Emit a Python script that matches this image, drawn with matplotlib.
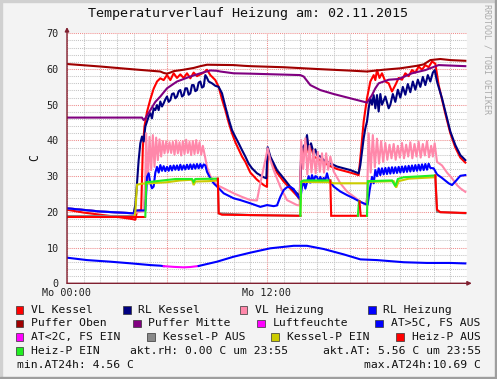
import matplotlib
matplotlib.use("Agg")
import matplotlib.pyplot as plt
from matplotlib.patches import Rectangle
import numpy as np

plt.rcParams['font.family'] = ['DejaVu Sans Mono']

# ---------------- data (hour of day, value in C) ----------------
vl_kessel = [(0, 20.6), (1, 19.8), (2, 19.2), (3, 18.6), (3.9, 18.0), (4.1, 17.8), (4.2, 20.3), (4.45, 20.5),
             (4.55, 38.0), (4.65, 44.0), (4.8, 48.0), (5.0, 51.5), (5.2, 54.5), (5.4, 56.5), (5.6, 57.4), (5.8, 56.9),
             (6.0, 58.3), (6.2, 56.9), (6.4, 58.8), (6.6, 57.5), (6.8, 58.5), (7.0, 57.5), (7.2, 58.8), (7.4, 57.4),
             (7.6, 59.0), (7.8, 58.0), (8.0, 58.5), (8.2, 59.0), (8.4, 59.8), (8.6, 58.3), (8.9, 56.9), (9.1, 55.0),
             (9.3, 51.5), (9.5, 48.5), (9.7, 45.0), (9.9, 42.0), (10.1, 39.5), (10.3, 37.5), (10.5, 35.5), (10.7, 34.0),
             (11.0, 31.0), (11.4, 29.0), (11.8, 27.5), (12.0, 27.0), (12.05, 37.3), (12.2, 35.0), (12.6, 31.0),
             (13.0, 28.5), (13.4, 26.5), (13.8, 24.5), (13.96, 23.5), (14.04, 33.0), (14.16, 37.0), (14.4, 40.5),
             (14.5, 36.5), (14.64, 38.5), (14.8, 35.5), (15.0, 35.0), (15.4, 33.8), (15.8, 32.8), (16.2, 32.0),
             (16.6, 31.5), (17.0, 31.0), (17.5, 30.3), (17.6, 35.0), (17.8, 45.3), (18.0, 51.8), (18.2, 56.5),
             (18.4, 58.3), (18.5, 56.9), (18.6, 59.7), (18.75, 57.5), (18.9, 58.8), (19.1, 56.5), (19.3, 56.0),
             (19.5, 53.7), (19.7, 55.5), (19.9, 57.5), (20.1, 57.0), (20.3, 58.8), (20.5, 58.0), (20.7, 59.7),
             (20.9, 59.0), (21.1, 60.7), (21.3, 59.8), (21.5, 61.1), (21.7, 60.5), (21.9, 62.1), (22.1, 61.5),
             (22.3, 55.5), (22.5, 51.5), (22.7, 47.5), (23.0, 42.0), (23.3, 38.0), (23.6, 35.2), (23.9, 33.8)]

rl_kessel = [(0, 21.0), (2, 20.1), (4.0, 19.6), (4.1, 22.0), (4.2, 28.0), (4.3, 34.5), (4.4, 39.2), (4.5, 41.1),
             (4.6, 39.7), (4.7, 43.9), (4.8, 45.3), (4.9, 46.7), (5.0, 47.6), (5.1, 46.2), (5.2, 49.0), (5.3, 48.5),
             (5.4, 49.9), (5.5, 48.5), (5.6, 50.9), (5.7, 49.5), (5.8, 50.4), (5.9, 51.5), (6.0, 52.3), (6.1, 50.8),
             (6.2, 51.3), (6.3, 53.0), (6.4, 53.2), (6.5, 51.8), (6.6, 52.3), (6.7, 53.8), (6.8, 54.1), (6.9, 52.3),
             (7.0, 52.7), (7.1, 54.6), (7.2, 54.6), (7.3, 52.8), (7.4, 53.2), (7.5, 55.5), (7.6, 55.5), (7.7, 53.8),
             (7.8, 54.1), (7.9, 56.2), (8.0, 56.5), (8.1, 54.8), (8.2, 55.1), (8.3, 58.3), (8.4, 57.5), (8.5, 56.5),
             (8.7, 56.0), (8.9, 55.3), (9.1, 55.0), (9.3, 53.2), (9.5, 49.5), (9.7, 46.0), (9.9, 42.9), (10.1, 41.0),
             (10.3, 39.2), (10.5, 37.3), (10.7, 35.5), (10.9, 33.5), (11.1, 32.2), (11.4, 30.8), (11.8, 29.7),
             (11.96, 29.4), (12.04, 38.1), (12.2, 35.5), (12.6, 31.7), (13.0, 29.4), (13.4, 27.0), (13.8, 25.2),
             (13.96, 24.2), (14.04, 34.5), (14.16, 38.2), (14.3, 39.0), (14.4, 41.5), (14.5, 37.3), (14.64, 39.2),
             (14.8, 36.4), (14.9, 37.5), (15.0, 35.9), (15.2, 35.5), (15.4, 34.5), (15.8, 33.6), (16.2, 32.7),
             (16.6, 32.2), (17.0, 31.7), (17.5, 30.8), (17.6, 33.1), (17.8, 40.6), (17.9, 43.4), (18.0, 45.3),
             (18.1, 49.0), (18.2, 51.8), (18.3, 50.0), (18.4, 52.7), (18.5, 49.0), (18.6, 52.7), (18.7, 48.1),
             (18.8, 53.0), (18.9, 50.0), (19.1, 52.3), (19.3, 49.0), (19.4, 50.0), (19.55, 53.0), (19.7, 50.8),
             (19.85, 54.2), (20.0, 52.0), (20.15, 55.0), (20.3, 52.8), (20.45, 55.8), (20.6, 53.5), (20.75, 56.5),
             (20.9, 54.2), (21.05, 57.0), (21.2, 55.0), (21.35, 57.8), (21.5, 55.5), (21.65, 58.3), (21.8, 56.5),
             (21.95, 59.0), (22.06, 59.7), (22.2, 56.5), (22.5, 51.8), (22.7, 48.1), (23.0, 42.5), (23.3, 38.7),
             (23.6, 35.9), (23.9, 34.5)]

vl_heizung = [(0, 21.0), (2, 20.1), (4.0, 19.6), (4.6, 20.3), (4.7, 30.0),
              (4.75, 42.0), (4.85, 28.0), (4.95, 41.0), (5.05, 31.7), (5.15, 41.5), (5.25, 32.6), (5.35, 40.8),
              (5.45, 34.5), (5.55, 40.3), (5.65, 35.5), (5.75, 39.8), (5.85, 36.4), (5.95, 39.7), (6.05, 36.6),
              (6.15, 39.5), (6.25, 36.5), (6.35, 39.6), (6.45, 36.0), (6.55, 40.0), (6.65, 36.4), (6.75, 39.5),
              (6.85, 35.8), (6.95, 39.8), (7.05, 36.2), (7.15, 40.2), (7.25, 36.5), (7.35, 39.6), (7.45, 35.9),
              (7.55, 39.8), (7.65, 36.2), (7.75, 40.1), (7.85, 36.4), (7.95, 39.5), (8.05, 36.0), (8.15, 38.5),
              (8.3, 35.0), (8.4, 32.5), (8.6, 30.0), (8.8, 28.5), (9.0, 27.5), (9.4, 26.6), (10.0, 25.2),
              (10.5, 24.2), (11.0, 23.3), (11.4, 23.2), (11.6, 28.0), (11.9, 34.5), (12.04, 37.8), (12.2, 34.5),
              (12.4, 31.7), (12.8, 27.0), (13.2, 23.3), (13.8, 21.9), (13.96, 21.8),
              (14.05, 40.1), (14.17, 32.0), (14.3, 40.6), (14.42, 30.5), (14.55, 38.5), (14.67, 31.0), (14.8, 37.3),
              (14.92, 30.8), (15.05, 36.8), (15.17, 31.2), (15.3, 36.4), (15.42, 31.0), (15.55, 36.4), (15.67, 31.8),
              (15.8, 35.5), (16.0, 31.3), (16.4, 28.0), (16.8, 25.7), (17.2, 24.3), (17.6, 22.9), (17.9, 22.0),
              (18.0, 23.8), (18.1, 42.0), (18.22, 31.0), (18.35, 41.5), (18.47, 32.5), (18.6, 40.5), (18.72, 33.5),
              (18.85, 39.8), (18.97, 34.0), (19.1, 39.3), (19.22, 34.6), (19.35, 38.8), (19.47, 35.0), (19.6, 39.0),
              (19.72, 34.6), (19.85, 38.5), (19.97, 35.2), (20.1, 39.3), (20.22, 35.0), (20.35, 38.8), (20.47, 35.5),
              (20.6, 39.5), (20.72, 35.0), (20.85, 39.0), (20.97, 35.5), (21.1, 39.6), (21.22, 35.2), (21.35, 39.0),
              (21.47, 35.8), (21.6, 39.8), (21.72, 35.3), (21.85, 38.5), (21.95, 35.5), (22.06, 39.2), (22.2, 34.0),
              (22.5, 33.0), (22.8, 31.0), (23.1, 29.4), (23.4, 27.5), (23.6, 26.6), (23.9, 25.6)]

rl_heizung = [(0, 21.0), (2, 20.1), (4.0, 19.6), (4.1, 20.4), (4.7, 20.4), (4.8, 29.8), (4.9, 30.8), (5.0, 28.0),
              (5.1, 26.6), (5.2, 27.1), (5.3, 31.0), (5.4, 32.6), (5.5, 31.0), (5.6, 33.1), (5.7, 31.5), (5.8, 32.8),
              (5.9, 31.4), (6.0, 32.6), (6.1, 31.5), (6.2, 32.9), (6.3, 31.6), (6.4, 33.0), (6.5, 31.8), (6.6, 33.0),
              (6.7, 31.7), (6.8, 33.2), (6.9, 31.8), (7.0, 33.0), (7.1, 31.9), (7.2, 33.2), (7.3, 32.0), (7.4, 33.3),
              (7.5, 32.0), (7.6, 33.3), (7.7, 32.1), (7.8, 33.4), (7.9, 32.2), (8.0, 33.4), (8.1, 32.3), (8.2, 33.3),
              (8.3, 33.0), (8.4, 31.2), (8.6, 29.4), (8.8, 28.0), (9.0, 27.1), (9.4, 25.2), (10.0, 23.8), (10.4, 23.3),
              (11.0, 22.4), (11.6, 21.4), (12.0, 21.9), (12.4, 21.6), (12.6, 21.8), (12.8, 24.2), (13.0, 26.1),
              (13.2, 26.9), (13.4, 27.0), (13.6, 26.4), (13.8, 24.7), (14.0, 23.5), (14.1, 27.1), (14.2, 28.4),
              (14.3, 26.5), (14.4, 28.2), (14.5, 30.0), (14.6, 28.2), (14.7, 30.3), (14.8, 28.6), (14.9, 30.0),
              (15.0, 29.8), (15.1, 28.4), (15.2, 29.8), (15.3, 28.6), (15.4, 29.5), (15.5, 28.9), (15.6, 30.8),
              (15.7, 29.0), (15.8, 28.4), (16.0, 27.1), (16.4, 25.7), (16.8, 24.7), (17.2, 23.8), (17.6, 22.8),
              (17.9, 22.2), (18.04, 22.0), (18.16, 26.1), (18.3, 29.8), (18.4, 28.0), (18.5, 31.7), (18.6, 30.0),
              (18.7, 32.2), (18.8, 30.3), (18.9, 32.2), (19.0, 30.5), (19.1, 32.3), (19.2, 30.6), (19.3, 32.4),
              (19.4, 30.7), (19.5, 32.5), (19.6, 30.8), (19.7, 32.5), (19.8, 30.9), (19.9, 32.6), (20.0, 31.0),
              (20.1, 32.7), (20.2, 31.1), (20.3, 32.8), (20.4, 31.2), (20.5, 32.9), (20.6, 31.3), (20.7, 33.0),
              (20.8, 31.4), (20.9, 33.1), (21.0, 31.5), (21.1, 33.2), (21.2, 31.6), (21.3, 33.3), (21.4, 31.7),
              (21.5, 33.4), (21.6, 31.8), (21.7, 33.5), (21.8, 32.3), (22.0, 32.2), (22.2, 30.5), (22.5, 29.5),
              (22.9, 28.0), (23.1, 27.5), (23.3, 28.5), (23.6, 30.1), (23.9, 30.3)]

puffer_oben = [(0, 61.4), (2, 60.7), (4, 59.9), (5.6, 59.3), (5.8, 58.9), (6.0, 58.7), (6.2, 59.0), (6.4, 59.4),
               (7.0, 59.8), (7.6, 60.3), (8.0, 60.8), (8.4, 61.2), (10.0, 61.1), (10.6, 60.9), (11.0, 60.8),
               (13.0, 60.5), (15.0, 60.0), (17.0, 59.55), (18.0, 59.3), (19.0, 59.8), (20.0, 60.2), (21.0, 60.9),
               (21.4, 61.3), (21.8, 62.5), (22.4, 62.8), (23.0, 62.5), (23.9, 62.3)]

puffer_mitte = [(0, 46.4), (4.5, 46.4), (4.6, 45.7), (4.7, 46.2), (5.0, 48.5), (5.3, 50.8), (5.6, 52.3), (6.0, 54.6),
                (6.6, 56.5), (7.4, 57.9), (8.0, 58.8), (8.6, 59.6), (9.0, 59.5), (9.2, 59.3), (10.0, 58.8),
                (11.0, 58.7), (14.0, 58.3), (14.2, 57.9), (14.6, 55.5), (15.2, 54.1), (16.0, 53.0), (17.0, 51.8),
                (18.0, 50.6), (18.3, 52.7), (18.5, 54.6), (18.7, 56.0), (19.3, 57.0), (19.9, 57.2), (20.7, 58.8),
                (21.5, 59.7), (22.3, 61.1), (23.9, 60.8)]

# outside temperature; flag 1 = "AT<2C, FS EIN" colour
aussen_t = [(0, 7.17, 0), (1.2, 6.5, 0), (2.6, 6.05, 0), (3.8, 5.6, 0), (5.0, 5.1, 0), (5.6, 4.93, 0), (5.8, 4.8, 0),
            (6.4, 4.6, 1), (7.0, 4.47, 1), (7.4, 4.56, 1), (7.9, 4.85, 1), (8.4, 5.4, 0), (9.0, 6.05, 0),
            (10.0, 7.45, 0), (11.0, 8.58, 0), (12.2, 9.8, 0), (13.0, 10.2, 0), (13.6, 10.5, 0), (14.4, 10.5, 0),
            (15.4, 9.6, 0), (16.6, 8.1, 0), (17.6, 6.7, 0), (18.6, 6.5, 0), (20.2, 5.9, 0), (21.6, 5.7, 0),
            (23.0, 5.7, 0), (23.9, 5.56, 0)]

# boiler pump state line: (hour, value, 1 = EIN)
kessel_p = [(0, 18.9, 0), (4.05, 18.9, 0), (4.1, 20.0, 1), (4.2, 27.6, 1), (4.5, 27.9, 1), (5.0, 28.0, 1),
            (6.0, 28.3, 1), (6.8, 28.8, 1), (7.5, 29.0, 1), (7.6, 27.5, 1), (7.7, 28.5, 1), (8.5, 28.6, 1),
            (9.05, 28.8, 1), (9.1, 19.6, 0), (11.0, 19.1, 0), (14.0, 18.9, 0), (14.05, 28.4, 1), (15.8, 28.3, 1),
            (16.0, 28.0, 1), (18.0, 28.0, 1), (18.1, 28.4, 1), (19.6, 28.6, 1), (19.75, 26.8, 1), (19.9, 28.6, 1),
            (20.5, 29.3, 1), (22.1, 29.7, 1), (22.2, 20.0, 0), (23.9, 19.6, 0)]

# heating pump state line: (hour, value, 1 = EIN)
heiz_p = [(0, 18.7, 0), (4.7, 18.7, 0), (4.75, 28.3, 1), (5.0, 28.4, 1), (6.5, 29.2, 1), (7.5, 29.2, 1),
          (7.6, 28.4, 1), (7.7, 29.2, 1), (9.05, 29.3, 1), (9.1, 19.6, 0), (9.3, 19.2, 0), (11.0, 19.1, 0),
          (14.0, 18.9, 0), (14.05, 28.5, 1), (14.2, 28.8, 1), (15.8, 28.8, 1), (15.85, 18.9, 0), (17.45, 18.9, 0),
          (17.52, 22.9, 1), (17.55, 22.9, 1), (17.62, 18.9, 0), (18.0, 18.9, 0), (18.05, 28.6, 1), (19.5, 28.8, 1),
          (19.7, 27.2, 1), (19.85, 29.2, 1), (20.2, 29.7, 1), (21.0, 29.9, 1), (22.1, 30.2, 1), (22.2, 20.6, 0),
          (22.4, 19.9, 0), (23.9, 19.7, 0)]

x_tick_labels = ["Mo 00:00", "", "Mo 12:00", "", ""]
title = "Temperaturverlauf Heizung am: 02.11.2015"

# ---------------- styling ----------------
C_VLK, C_RLK, C_VLH, C_RLH = "#FF0000", "#000080", "#FF88AA", "#0000FF"
C_PO, C_PM, C_LF = "#A00000", "#800080", "#FF00FF"
C_ATHI, C_ATLO = "#0000FF", "#FF00FF"
C_KOFF, C_KON, C_HOFF, C_HON = "#888888", "#CCCC00", "#FF0000", "#22EE22"
AXC = "#802030"
LW = 1.5

W, H = 497, 379
fig = plt.figure(figsize=(W / 100, H / 100), dpi=100)
fig.patch.set_facecolor("#F3F3F3")

# outer 3D-ish border
fig.add_artist(Rectangle((0, 0), 2 / W, 1, transform=fig.transFigure, color="#D0D0D0", zorder=0))
fig.add_artist(Rectangle((0, 1 - 2 / H), 1, 2 / H, transform=fig.transFigure, color="#D0D0D0", zorder=0))
fig.add_artist(Rectangle((1 - 2 / W, 0), 2 / W, 1, transform=fig.transFigure, color="#9E9E9E", zorder=0))
fig.add_artist(Rectangle((0, 0), 1, 2 / H, transform=fig.transFigure, color="#9E9E9E", zorder=0))

ax = fig.add_axes([67 / W, 1 - 283.3 / H, 400 / W, 250 / H])
ax.set_facecolor("white")
ax.set_xlim(0, 24)
ax.set_ylim(0, 70)
ax.set_xticks([0, 6, 12, 18, 24])
ax.set_xticklabels(x_tick_labels)
ax.set_xticks(np.arange(0, 25, 1), minor=True)
ax.set_yticks(np.arange(0, 71, 10))
ax.set_yticks(np.arange(0, 71, 2), minor=True)
ax.grid(which="minor", color="#C4C4C4", linestyle=(0, (1, 1)), linewidth=0.75)
ax.grid(which="major", color="#EE8C8C", linestyle=(0, (1, 1)), linewidth=0.75)
ax.set_axisbelow(True)
ax.tick_params(which="both", length=0)
ax.tick_params(axis="y", pad=6, labelsize=7.3, labelcolor="#222222")
ax.tick_params(axis="x", pad=3.5, labelsize=7.3, labelcolor="#222222")
for s in ax.spines.values():
    s.set_visible(False)


def unzip(pairs):
    return [p[0] for p in pairs], [p[1] for p in pairs]


def draw_state(data, c_off, c_on, z):
    t = [d[0] for d in data]
    v = [d[1] for d in data]
    s = [d[2] for d in data]
    seg_col = [s[i + 1] for i in range(len(t) - 1)]
    i0 = 0
    for i in range(1, len(seg_col) + 1):
        if i == len(seg_col) or seg_col[i] != seg_col[i0]:
            ax.plot(t[i0:i + 1], v[i0:i + 1], color=(c_on if seg_col[i0] else c_off), lw=LW, zorder=z,
                    solid_joinstyle="miter")
            i0 = i


for z, (series, col) in enumerate([(vl_kessel, C_VLK), (rl_kessel, C_RLK), (vl_heizung, C_VLH),
                                   (rl_heizung, C_RLH), (puffer_oben, C_PO), (puffer_mitte, C_PM)]):
    t, v = unzip(series)
    ax.plot(t, v, color=col, lw=LW, zorder=3 + z)

draw_state(aussen_t, C_ATHI, C_ATLO, 10)
draw_state(kessel_p, C_KOFF, C_KON, 11)
draw_state(heiz_p, C_HOFF, C_HON, 12)

# axes with arrows
ax.annotate("", xy=(0, 1.025), xytext=(0, 0), xycoords="axes fraction",
            arrowprops=dict(arrowstyle="-|>", color=AXC, lw=1.0, mutation_scale=6, shrinkA=0, shrinkB=0),
            annotation_clip=False, zorder=20)
ax.annotate("", xy=(1.012, 0), xytext=(0, 0), xycoords="axes fraction",
            arrowprops=dict(arrowstyle="-|>", color=AXC, lw=1.0, mutation_scale=6, shrinkA=0, shrinkB=0),
            annotation_clip=False, zorder=20)

# texts
fig.text(248 / W, 1 - 14 / H, title, ha="center", va="center", fontsize=9.6, color="#111111")
fig.text(35 / W, 1 - 158 / H, "C", rotation=90, ha="center", va="center", fontsize=8.3, color="#111111")
fig.text(487 / W, 1 - 4 / H, "RRDTOOL / TOBI OETIKER", rotation=270, ha="center", va="top",
         fontsize=6.0, color="#AAAAAA")

legend_rows = [
    [("VL Kessel", C_VLK, 31), ("RL Kessel", C_RLK, 138.3), ("VL Heizung", C_VLH, 255), ("RL Heizung", C_RLH, 383.3)],
    [("Puffer Oben", C_PO, 31), ("Puffer Mitte", C_PM, 148.3), ("Luftfeuchte", C_LF, 272.7), ("AT>5C, FS AUS", C_ATHI, 390.7)],
    [("AT<2C, FS EIN", C_ATLO, 31), ("Kessel-P AUS", C_KOFF, 162.7), ("Kessel-P EIN", C_KON, 286.7), ("Heiz-P AUS", C_HOFF, 411.7)],
    [("Heiz-P EIN", C_HON, 31)],
]
row_y = [309.7, 323.3, 337.0, 350.7, 364.7]
for r, row in enumerate(legend_rows):
    y = row_y[r]
    for label, col, tx in row:
        bx = tx - 15.3
        fig.add_artist(Rectangle((bx / W, 1 - (y + 4) / H), 7.7 / W, 7.7 / H, transform=fig.transFigure,
                                 facecolor=col, edgecolor="#333333", linewidth=0.5))
        fig.text(tx / W, 1 - y / H, label, ha="left", va="center", fontsize=8.2, color="#111111")

fig.text(130 / W, 1 - row_y[3] / H, "akt.rH: 0.00 C um 23:55", ha="left", va="center", fontsize=8.2, color="#111111")
fig.text(481 / W, 1 - row_y[3] / H, "akt.AT: 5.56 C um 23:55", ha="right", va="center", fontsize=8.2, color="#111111")
fig.text(16.7 / W, 1 - row_y[4] / H, "min.AT24h: 4.56 C", ha="left", va="center", fontsize=8.2, color="#111111")
fig.text(481 / W, 1 - row_y[4] / H, "max.AT24h:10.69 C", ha="right", va="center", fontsize=8.2, color="#111111")

fig.savefig("out.png", dpi=100, facecolor=fig.get_facecolor())
